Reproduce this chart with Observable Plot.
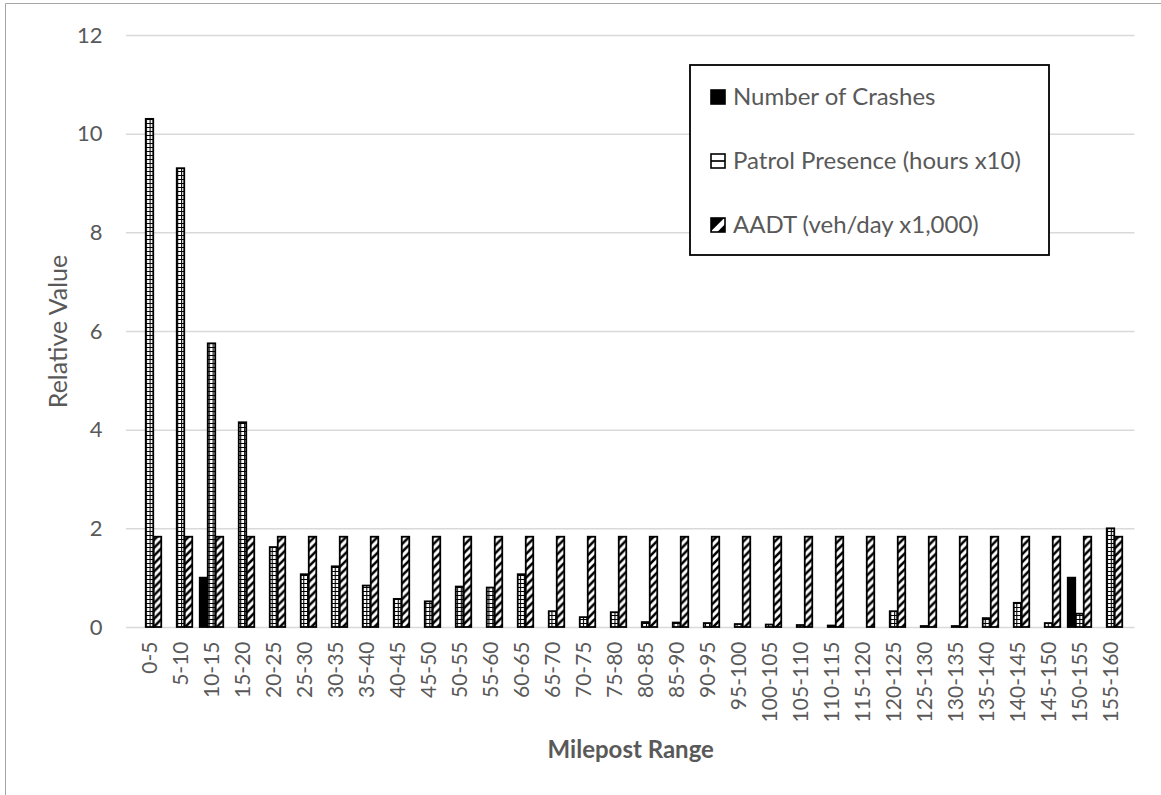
<!DOCTYPE html>
<html>
<head>
<meta charset="utf-8">
<script src="https://cdn.jsdelivr.net/npm/d3@7"></script>
<script src="https://cdn.jsdelivr.net/npm/@observablehq/plot@0.6"></script>
<style>
  body { margin: 0; background: #fff; }
  #chart { position: relative; width: 1161px; height: 795px; }
</style>
</head>
<body>
<div id="chart"></div>
<script>
const categories = ["0-5","5-10","10-15","15-20","20-25","25-30","30-35","35-40","40-45","45-50",
  "50-55","55-60","60-65","65-70","70-75","75-80","80-85","85-90","90-95","95-100",
  "100-105","105-110","110-115","115-120","120-125","125-130","130-135","135-140","140-145","145-150",
  "150-155","155-160"];
const crashes = [0,0,1,0,0,0,0,0,0,0, 0,0,0,0,0,0,0,0,0,0, 0,0,0,0,0,0,0,0,0,0, 1,0];
const patrol = [10.3,9.3,5.75,4.15,1.62,1.07,1.23,0.84,0.57,0.52,
  0.82,0.80,1.07,0.32,0.20,0.30,0.10,0.09,0.08,0.06,
  0.05,0.04,0.03,0,0.32,0.02,0.02,0.18,0.49,0.08,
  0.27,2.0];
const aadt = [1.83,1.83,1.83,1.83,1.83,1.83,1.83,1.83,1.83,1.83,
  1.83,1.83,1.83,1.83,1.83,1.83,1.83,1.83,1.83,1.83,
  1.83,1.83,1.83,1.83,1.83,1.83,1.83,1.83,1.83,1.83,
  1.83,1.83];
const seriesNames = ["Number of Crashes", "Patrol Presence (hours x10)", "AADT (veh/day x1,000)"];
const yTicks = [0, 2, 4, 6, 8, 10, 12];
const xTitle = "Milepost Range";
const yTitle = "Relative Value";

const W = 1161, H = 795, mL = 126, mR = 26.5, mT = 35, mB = 168;
const FONT = "Lato, 'Open Sans', sans-serif";
const TEXT = "#595959";
const bw = (W - mL - mR) / categories.length;
const barW = bw * 8 / 31.5;
const off = (bw - 3 * barW) / 2;

const seriesValues = [crashes, patrol, aadt];
const fills = ["black", "url(#patGrid)", "url(#patDiag)"];
const legendFills = ["black", "url(#legGrid)", "url(#legDiag)"];
const rows = categories.flatMap((c, i) => seriesValues.map((vals, k) => ({cat: c, series: k, value: vals[i]})));

const barMarks = seriesValues.map((_, k) =>
  Plot.barY(rows.filter(d => d.series === k && d.value > 0), {
    x: "cat", y: "value", fill: fills[k], stroke: "black", strokeWidth: 1.8,
    insetLeft: off + k * barW, insetRight: bw - off - (k + 1) * barW
  })
);

const svg = Plot.plot({
  width: W, height: H,
  marginLeft: mL, marginRight: mR, marginTop: mT, marginBottom: mB,
  style: {fontFamily: FONT, fontSize: "22px", color: TEXT, background: "white"},
  x: {type: "band", domain: categories, padding: 0},
  y: {domain: [0, 12]},
  marks: [
    Plot.gridY(yTicks, {stroke: "#d9d9d9", strokeOpacity: 1, strokeWidth: 1.5}),
    ...barMarks,
    Plot.axisY(yTicks, {tickSize: 0, tickPadding: 24, fontSize: 22, label: null}),
    Plot.axisX({tickRotate: -90, tickSize: 0, tickPadding: 14, fontSize: 21, label: null}),
    Plot.text([yTitle], {frameAnchor: "left", dx: -68, rotate: -90, textAnchor: "middle", lineAnchor: "middle", fontSize: 25, fill: TEXT}),
    Plot.text([xTitle], {frameAnchor: "bottom", dy: 123, textAnchor: "middle", lineAnchor: "middle", fontSize: 24, fontWeight: "bold", fill: TEXT})
  ]
});

// patterns
const s = d3.select(svg);
const defs = s.insert("defs", ":first-child");
const gx = mL + off + barW; // phase aligned with patrol bars
const pg = defs.append("pattern").attr("id", "patGrid").attr("patternUnits", "userSpaceOnUse")
  .attr("x", gx).attr("y", H - mB).attr("width", bw / 8).attr("height", 4);
pg.append("rect").attr("width", bw / 8).attr("height", 4).attr("fill", "white");
pg.append("path").attr("d", `M0,0.5H${bw/8}M0.5,0V4`).attr("stroke", "black").attr("stroke-width", 1.2).attr("fill", "none");

const p = bw / 4;
const dx0 = mL + off + 2 * barW;
const pd = defs.append("pattern").attr("id", "patDiag").attr("patternUnits", "userSpaceOnUse")
  .attr("x", dx0).attr("y", H - mB).attr("width", p).attr("height", p);
pd.append("rect").attr("width", p).attr("height", p).attr("fill", "white");
pd.append("path").attr("d", `M${-p/2},${p/2}L${p/2},${-p/2}M0,${p}L${p},0M${p/2},${1.5*p}L${1.5*p},${p/2}`)
  .attr("stroke", "black").attr("stroke-width", 2.6).attr("fill", "none");

// legend swatch patterns (one tile per swatch)
const lgp = defs.append("pattern").attr("id", "legGrid").attr("patternUnits", "objectBoundingBox")
  .attr("patternContentUnits", "objectBoundingBox").attr("width", 1).attr("height", 1);
lgp.append("rect").attr("width", 1).attr("height", 1).attr("fill", "white");
lgp.append("path").attr("d", "M0,0.5H1").attr("stroke", "black").attr("stroke-width", 0.12);
const ldp = defs.append("pattern").attr("id", "legDiag").attr("patternUnits", "objectBoundingBox")
  .attr("patternContentUnits", "objectBoundingBox").attr("width", 1).attr("height", 1);
ldp.append("rect").attr("width", 1).attr("height", 1).attr("fill", "white");
ldp.append("path").attr("d", "M0,0H0.95L0,0.95Z").attr("fill", "black");
ldp.append("path").attr("d", "M0.45,1L1,0.45V1Z").attr("fill", "black");

// outer chart border (left and top edges visible)
s.append("path").attr("d", `M5.5,${H}V3.5H${W}`).attr("stroke", "#a6a6a6").attr("fill", "none");

// legend
const lg = s.append("g");
lg.append("rect").attr("x", 690).attr("y", 65).attr("width", 359).attr("height", 190)
  .attr("fill", "white").attr("stroke", "black").attr("stroke-width", 1.8);
seriesNames.forEach((name, k) => {
  const cy = 97 + k * 64;
  lg.append("rect").attr("x", 711).attr("y", cy - 7).attr("width", 14).attr("height", 14)
    .attr("fill", legendFills[k]).attr("stroke", "black").attr("stroke-width", 1.6);
  lg.append("text").attr("x", 733).attr("y", cy).attr("dy", "0.35em").attr("text-anchor", "start")
    .attr("fill", TEXT).attr("font-family", FONT).attr("font-size", 24).text(name);
});

document.getElementById("chart").appendChild(svg);
</script>
</body>
</html>
